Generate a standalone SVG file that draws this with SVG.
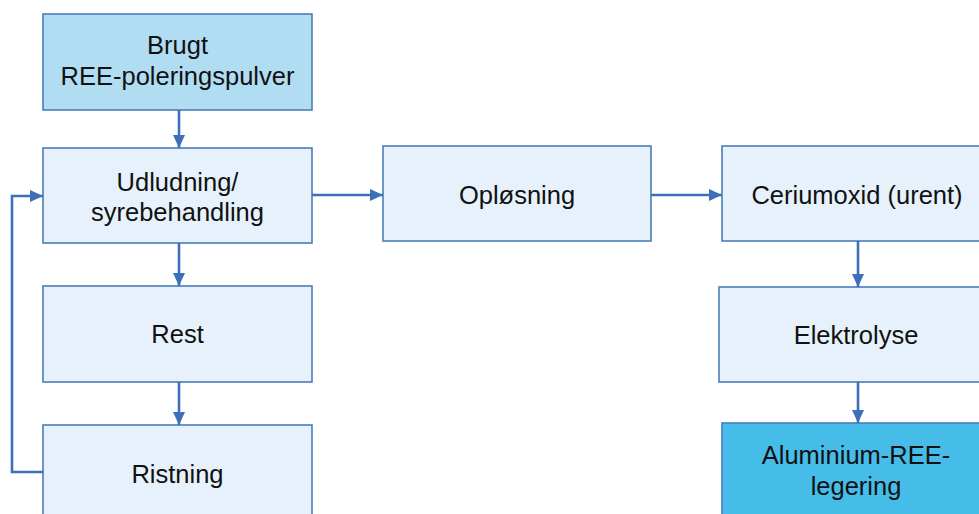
<svg xmlns="http://www.w3.org/2000/svg" width="979" height="514" viewBox="0 0 979 514">
<style>
.box{stroke:#4a7ebb;stroke-width:1.6}
.light{fill:#e6f1fb}
.top{fill:#b1ddf3}
.dark{fill:#46bde9}
text{font-family:"Liberation Sans",Arial,sans-serif;font-size:25.5px;fill:#111;text-anchor:middle}
.c{fill:none;stroke:#3d70b8;stroke-width:2.6}
</style>
<defs>
<marker id="ah" markerUnits="userSpaceOnUse" markerWidth="14" markerHeight="14" viewBox="0 0 14 14" refX="13" refY="7" orient="auto">
<path d="M0,1 L13,7 L0,13 Z" fill="#3d70b8"/>
</marker>
</defs>
<rect width="979" height="514" fill="#ffffff"/>
<g id="n1"><rect class="box top" x="43" y="14" width="269" height="96"/><text x="177.5" y="54">Brugt</text><text x="177.5" y="85">REE-poleringspulver</text></g>
<g id="n2"><rect class="box light" x="43" y="148" width="269" height="95"/><text x="177.5" y="191">Udludning/</text><text x="177.5" y="221">syrebehandling</text></g>
<g id="n3"><rect class="box light" x="43" y="286" width="269" height="96"/><text x="177.5" y="343">Rest</text></g>
<g id="n4"><rect class="box light" x="43" y="425" width="269" height="96"/><text x="177.5" y="483">Ristning</text></g>
<g id="n5"><rect class="box light" x="383" y="146" width="268" height="95"/><text x="517" y="204">Opløsning</text></g>
<g id="n6"><rect class="box light" x="722" y="146" width="270" height="95"/><text x="857" y="204">Ceriumoxid (urent)</text></g>
<g id="n7"><rect class="box light" x="719" y="287" width="274" height="95"/><text x="856" y="344">Elektrolyse</text></g>
<g id="n8"><rect class="box dark" x="722" y="423" width="270" height="96"/><text x="856" y="464">Aluminium-REE-</text><text x="856" y="495">legering</text></g>
<g id="connectors">
<path class="c" d="M179,110 V148" marker-end="url(#ah)"/>
<path class="c" d="M179,243 V286" marker-end="url(#ah)"/>
<path class="c" d="M179,382 V425" marker-end="url(#ah)"/>
<path class="c" d="M312,195 H383" marker-end="url(#ah)"/>
<path class="c" d="M651,195 H722" marker-end="url(#ah)"/>
<path class="c" d="M858,241 V287" marker-end="url(#ah)"/>
<path class="c" d="M858,382 V423" marker-end="url(#ah)"/>
<path class="c" d="M43,472 H12 V196 H43" marker-end="url(#ah)"/>
</g>
</svg>
